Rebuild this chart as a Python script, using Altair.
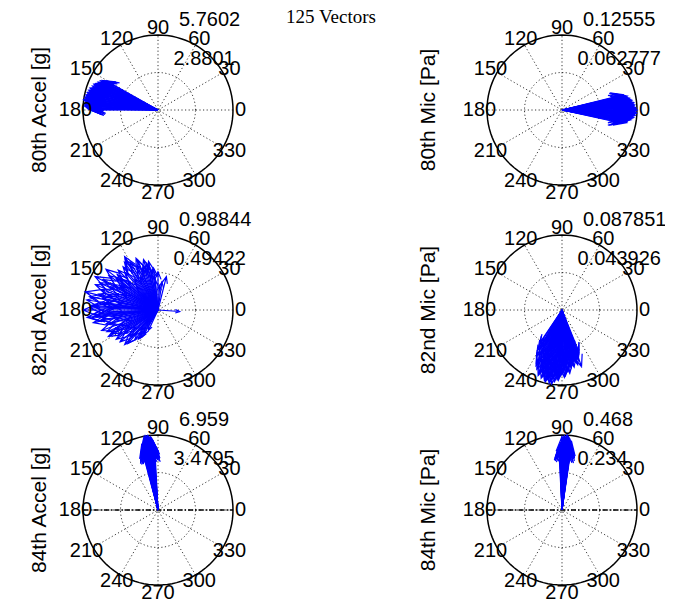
import math
import altair as alt
import pandas as pd

TITLE = "125 Vectors"
panel_names = ["80th Accel [g]", "80th Mic [Pa]", "82nd Accel [g]",
               "82nd Mic [Pa]", "84th Accel [g]", "84th Mic [Pa]"]
ring_outer = ["5.7602", "0.12555", "0.98844", "0.087851", "6.959", "0.468"]
ring_inner = ["2.8801", "0.062777", "0.49422", "0.043926", "3.4795", "0.234"]
angle_ticks = [0, 30, 60, 90, 120, 150, 180, 210, 240, 270, 300, 330]
angle_labels = ["0", "30", "60", "90", "120", "150", "180", "210", "240", "270", "300", "330"]

# vectors: direction (deg) and magnitude as fraction of the panel's max (outer-ring label)
accel80_ang = [151, 152, 153, 154, 155, 156, 157, 158, 159, 160, 161, 162, 163, 164, 165,
               166, 167, 168, 169, 170, 171, 172, 173, 174, 175, 176, 177, 178, 179, 180,
               156, 160, 164, 168, 172, 176, 162, 170, 174, 178,
               150.5, 152.5, 154.5, 156.5, 158.5, 160.5, 162.5, 164.5, 166.5, 168.5, 170.5,
               172.5, 174.5, 176.5, 178.5, 179.5, 153, 157, 161, 165, 169, 173, 177,
               155, 163, 171, 175, 167, 159, 179]
accel80_mag = [0.80, 0.84, 0.86, 0.83, 0.88, 0.87, 0.90, 0.92, 0.89, 0.93, 0.91, 0.95, 0.92, 0.96, 0.94,
               0.97, 0.95, 0.98, 0.96, 0.99, 0.97, 1.00, 0.98, 0.97, 0.99, 0.96, 0.98, 0.95, 0.93, 0.90,
               0.82, 0.86, 0.88, 0.90, 0.93, 0.91, 0.85, 0.88, 0.92, 0.87,
               0.78, 0.82, 0.85, 0.89, 0.91, 0.90, 0.94, 0.93, 0.96, 0.97, 0.98,
               0.99, 0.96, 0.97, 0.94, 0.92, 0.80, 0.84, 0.88, 0.90, 0.93, 0.95, 0.92,
               0.85, 0.89, 0.94, 0.90, 0.91, 0.86, 0.88]

mic80_ang = [-12, -11, -10, -9, -8, -7, -6, -5, -4, -3, -2, -1, 0, 1, 2, 3, 4, 5, 6, 7, 8, 9, 10,
             11, 12, 13, 14, -6, -2, 2, 6, 10, -9, 4, 0, 8, -4, 12, -10, 3,
             -12.5, -10.5, -8.5, -6.5, -4.5, -2.5, -0.5, 1.5, 3.5, 5.5, 7.5, 9.5, 11.5, 13.5,
             -11, -7, -3, 1, 5, 9, 13, -5, -1, 3, 7, -8, 11, 0, 6, -2]
mic80_mag = [0.82, 0.85, 0.88, 0.86, 0.93, 0.90, 0.96, 0.94, 0.98, 0.95, 0.99, 0.97, 1.00, 0.96,
             0.98, 0.95, 0.97, 0.93, 0.96, 0.92, 0.94, 0.90, 0.91, 0.88, 0.89, 0.86, 0.84,
             0.86, 0.90, 0.88, 0.85, 0.83, 0.80, 0.89, 0.92, 0.84, 0.87, 0.80, 0.79, 0.91,
             0.80, 0.84, 0.90, 0.94, 0.97, 0.99, 0.98, 0.97, 0.96, 0.95, 0.93, 0.90, 0.87, 0.83,
             0.88, 0.92, 0.94, 0.98, 0.95, 0.92, 0.85, 0.90, 0.94, 0.91, 0.89, 0.87, 0.84, 0.96,
             0.93, 0.97]

accel82_ang = [180, 166, 152, 106, 120, 129, 90, 76, 86, 103, -4, 220, 234, 236, 210, 191, 190, 188,
               154, 151, 169, 176, 184, 133, 160, 172, 158, 163, 174, 178, 186, 195, 200, 205, 214,
               225, 228, 240, 245, 198, 140, 145, 137, 122, 115, 110, 100, 95, 82, 135, 148, 157,
               170, 182, 193, 207, 218, 230, 118, 142,
               125, 131, 139, 147, 155, 161, 165, 173, 177, 183, 187, 196, 202, 208, 212, 222,
               226, 232, 238, 150, 168, 175, 185, 108, 98, 113, 127, 143, 203, 215,
               104, 112, 117, 123, 96, 101]
accel82_mag = [1.00, 1.00, 0.95, 0.70, 0.74, 0.74, 0.51, 0.46, 0.33, 0.59, 0.29, 0.66, 0.41, 0.47,
               0.49, 0.88, 0.78, 0.61, 0.71, 0.84, 0.93, 0.89, 0.87, 0.42, 0.80, 0.96, 0.90, 0.70,
               0.75, 0.92, 0.95, 0.72, 0.80, 0.62, 0.55, 0.50, 0.60, 0.38, 0.30, 0.45, 0.65, 0.80,
               0.55, 0.84, 0.66, 0.58, 0.48, 0.40, 0.38, 0.75, 0.60, 0.50, 0.55, 0.68, 0.58, 0.70,
               0.42, 0.35, 0.50, 0.88,
               0.78, 0.66, 0.72, 0.58, 0.86, 0.62, 0.82, 0.70, 0.85, 0.76, 0.90, 0.66, 0.55, 0.75,
               0.62, 0.52, 0.64, 0.50, 0.44, 0.68, 0.76, 0.60, 0.82, 0.62, 0.55, 0.75, 0.52, 0.70,
               0.74, 0.68,
               0.64, 0.72, 0.60, 0.80, 0.56, 0.66]

mic82_ang = [236, 240, 243, 246, 249, 252, 254, 256, 258, 260, 262, 264, 266, 268, 270, 272, 274,
             276, 277, 279, 281, 283, 284, 286, 288, 289, 290, 292, 245, 250, 255, 259, 263, 267,
             271, 275, 280, 285, 248, 253, 261, 269, 278, 287, 242,
             237, 239, 241, 244, 247, 250, 251, 253, 255, 257, 259, 261, 263, 265, 267, 269, 271,
             273, 275, 278, 280, 282, 285, 288, 291, 244, 252, 258, 264, 270, 276, 282, 256, 266, 274]
mic82_mag = [0.52, 0.60, 0.68, 0.74, 0.76, 0.85, 0.92, 0.97, 0.95, 0.99, 1.00, 0.96, 0.93, 0.89,
             0.86, 0.90, 0.84, 0.80, 0.85, 0.78, 0.74, 0.70, 0.69, 0.76, 0.66, 0.80, 0.64, 0.60,
             0.82, 0.90, 0.80, 0.88, 0.85, 0.78, 0.75, 0.72, 0.66, 0.62, 0.66, 0.72, 0.70, 0.68,
             0.60, 0.55, 0.55,
             0.55, 0.62, 0.70, 0.78, 0.86, 0.93, 0.88, 0.95, 0.90, 0.98, 0.93, 0.96, 0.91, 0.88,
             0.94, 0.87, 0.83, 0.88, 0.82, 0.76, 0.72, 0.78, 0.72, 0.70, 0.62, 0.64, 0.76, 0.82,
             0.80, 0.74, 0.70, 0.64, 0.74, 0.66, 0.60]

accel84_ang = [94, 95, 95, 96, 96, 97, 97, 98, 98, 99, 99, 100, 100, 101, 101, 102, 102, 103, 103,
               104, 104, 93, 94, 96, 97, 98, 99, 100, 101, 102, 103, 105, 95, 97, 99,
               93.5, 94.5, 95.5, 96.5, 97.5, 98.5, 99.5, 100.5, 101.5, 102.5, 103.5, 104.5,
               95, 96, 97, 98, 99, 100, 101, 102, 94, 96, 98, 100, 102, 104, 97, 99, 101, 103]
accel84_mag = [0.84, 0.90, 0.82, 0.95, 0.86, 0.98, 0.88, 1.00, 0.92, 0.97, 0.85, 1.00, 0.90, 0.96,
               0.83, 0.94, 0.87, 0.91, 0.81, 0.86, 0.80, 0.80, 0.92, 0.91, 0.80, 0.84, 0.93, 0.82,
               0.89, 0.80, 0.88, 0.82, 0.96, 0.94, 0.99,
               0.86, 0.93, 0.97, 0.90, 0.99, 0.95, 1.00, 0.97, 0.92, 0.90, 0.85, 0.83,
               0.86, 0.83, 0.91, 0.96, 0.88, 0.94, 0.86, 0.91, 0.88, 0.98, 0.89, 0.96, 0.84, 0.90,
               0.85, 0.82, 0.99, 0.84]

mic84_ang = [82, 83, 83, 84, 84, 85, 85, 86, 86, 87, 87, 88, 88, 89, 89, 90, 90, 91, 91, 92, 92,
             93, 84, 85, 86, 87, 88, 89, 90, 91, 82, 83, 86, 88, 87,
             81.5, 82.5, 83.5, 84.5, 85.5, 86.5, 87.5, 88.5, 89.5, 90.5, 91.5, 92.5,
             83, 84, 85, 86, 87, 88, 89, 90, 82, 84, 86, 88, 90, 92, 85, 87, 89, 91]
mic84_mag = [0.88, 0.92, 0.82, 0.96, 0.86, 0.98, 0.84, 1.00, 0.90, 0.97, 0.83, 0.99, 0.88, 0.95,
             0.81, 0.93, 0.86, 0.90, 0.80, 0.87, 0.82, 0.84, 0.80, 0.91, 0.85, 0.93, 0.81, 0.91,
             0.98, 0.85, 0.80, 0.87, 0.95, 0.94, 0.89,
             0.84, 0.90, 0.94, 0.92, 0.97, 0.99, 0.95, 0.98, 0.92, 0.90, 0.86, 0.83,
             0.89, 0.93, 0.88, 0.82, 0.86, 0.91, 0.87, 0.84, 0.92, 0.88, 0.94, 0.97, 0.89, 0.85,
             0.95, 0.80, 0.96, 0.88]

panel_angles = [accel80_ang, mic80_ang, accel82_ang, mic82_ang, accel84_ang, mic84_ang]
panel_mags = [accel80_mag, mic80_mag, accel82_mag, mic82_mag, accel84_mag, mic84_mag]
dashed_axis = [False, False, False, False, True, True]

# ---- layout (page pixels) ----
W, H = 657, 597
centers = [(158, 110), (562, 110), (158, 310), (562, 310), (158, 510), (562, 510)]
label_x = [46, 435, 46, 435, 46, 435]
R = 75.0

vec_rows, ring_rows, spoke_rows, dash_rows = [], [], [], []
alab_rows, rlab_rows, ylab_rows = [], [], []
for p, (cx, cy) in enumerate(centers):
    # vectors (compass-style arrows)
    for i, (a, m) in enumerate(zip(panel_angles[p], panel_mags[p])):
        th = math.radians(a)
        z = complex(math.cos(th), math.sin(th)) * m * R
        pts = [0, z, 0.8 * z + 0.08j * z, z, 0.8 * z - 0.08j * z]
        for k, q in enumerate(pts):
            q = complex(q)
            vec_rows.append({"vid": f"{p}-{i}", "k": k, "x": cx + q.real, "y": cy - q.imag})
    # rings
    for name, rr in (("outer", R), ("inner", R / 2)):
        for k in range(101):
            t = 2 * math.pi * k / 100
            ring_rows.append({"ring": f"{p}-{name}", "kind": name, "k": k,
                              "x": cx + rr * math.cos(t), "y": cy - rr * math.sin(t)})
    # spokes
    for a in range(30, 181, 30):
        t = math.radians(a)
        spoke_rows.append({"x": cx - R * math.cos(t), "y": cy + R * math.sin(t),
                           "x2": cx + R * math.cos(t), "y2": cy - R * math.sin(t)})
    if dashed_axis[p]:
        dash_rows.append({"x": cx - R, "y": cy, "x2": cx + R, "y2": cy})
    # angle labels
    for a, lab in zip(angle_ticks, angle_labels):
        t = math.radians(a)
        alab_rows.append({"x": cx + 1.1 * R * math.cos(t), "y": cy - 1.1 * R * math.sin(t), "t": lab})
    # ring value labels
    c82, s82 = math.cos(math.radians(82)), math.sin(math.radians(82))
    for f, lab in ((1.05, ring_outer[p]), (0.525, ring_inner[p])):
        rlab_rows.append({"x": cx + f * R * c82 + 10, "y": cy - f * R * s82 - 6.5, "t": lab})
    ylab_rows.append({"x": label_x[p], "y": cy, "t": panel_names[p]})

vec_df = pd.DataFrame(vec_rows)
ring_df = pd.DataFrame(ring_rows)
spoke_df = pd.DataFrame(spoke_rows)
dash_df = pd.DataFrame(dash_rows)
alab_df = pd.DataFrame(alab_rows)
rlab_df = pd.DataFrame(rlab_rows)
ylab_df = pd.DataFrame(ylab_rows)
title_df = pd.DataFrame([{"x": 331, "y": 22.5, "t": TITLE}])

xs = alt.Scale(domain=[8, 8 + W], nice=False, zero=False)
ys = alt.Scale(domain=[8, 8 + H], nice=False, zero=False, reverse=True)
X = lambda f="x": alt.X(f"{f}:Q", scale=xs, axis=None)
Y = lambda f="y": alt.Y(f"{f}:Q", scale=ys, axis=None)

spokes = alt.Chart(spoke_df).mark_rule(color="#222", strokeWidth=0.9, strokeDash=[1.2, 2.4]).encode(
    x=X(), y=Y(), x2="x2:Q", y2="y2:Q")
inner = alt.Chart(ring_df[ring_df.kind == "inner"]).mark_line(
    color="#222", strokeWidth=0.9, strokeDash=[1.2, 2.4]).encode(
    x=X(), y=Y(), detail="ring:N", order="k:Q")
outer = alt.Chart(ring_df[ring_df.kind == "outer"]).mark_line(
    color="black", strokeWidth=1.5).encode(x=X(), y=Y(), detail="ring:N", order="k:Q")
dash = alt.Chart(dash_df).mark_rule(color="black", strokeWidth=1.5, strokeDash=[5, 2, 1.5, 2]).encode(
    x=X(), y=Y(), x2="x2:Q", y2="y2:Q")
vecs = alt.Chart(vec_df).mark_line(color="#0000ff", strokeWidth=1.2).encode(
    x=X(), y=Y(), detail="vid:N", order="k:Q")

txt = dict(font="Liberation Sans", fontSize=20, color="black")
alabs = alt.Chart(alab_df).mark_text(align="center", baseline="middle", **txt).encode(
    x=X(), y=Y(), text="t:N")
rlabs = alt.Chart(rlab_df).mark_text(align="left", baseline="alphabetic", **txt).encode(
    x=X(), y=Y(), text="t:N")
ylabs = alt.Chart(ylab_df).mark_text(align="center", baseline="alphabetic", angle=270,
                                     font="Liberation Sans", fontSize=21, color="black").encode(
    x=X(), y=Y(), text="t:N")
title = alt.Chart(title_df).mark_text(align="center", baseline="alphabetic",
                                      font="Liberation Serif", fontSize=19, color="black").encode(
    x=X(), y=Y(), text="t:N")

chart = alt.layer(spokes, inner, outer, dash, vecs, alabs, rlabs, ylabs, title).properties(
    width=W, height=H, padding=0, autosize=alt.AutoSizeParams(type="none"),
    background="white").configure_view(stroke=None)

chart.save("out.html", embed_options={"renderer": "svg", "actions": False})
